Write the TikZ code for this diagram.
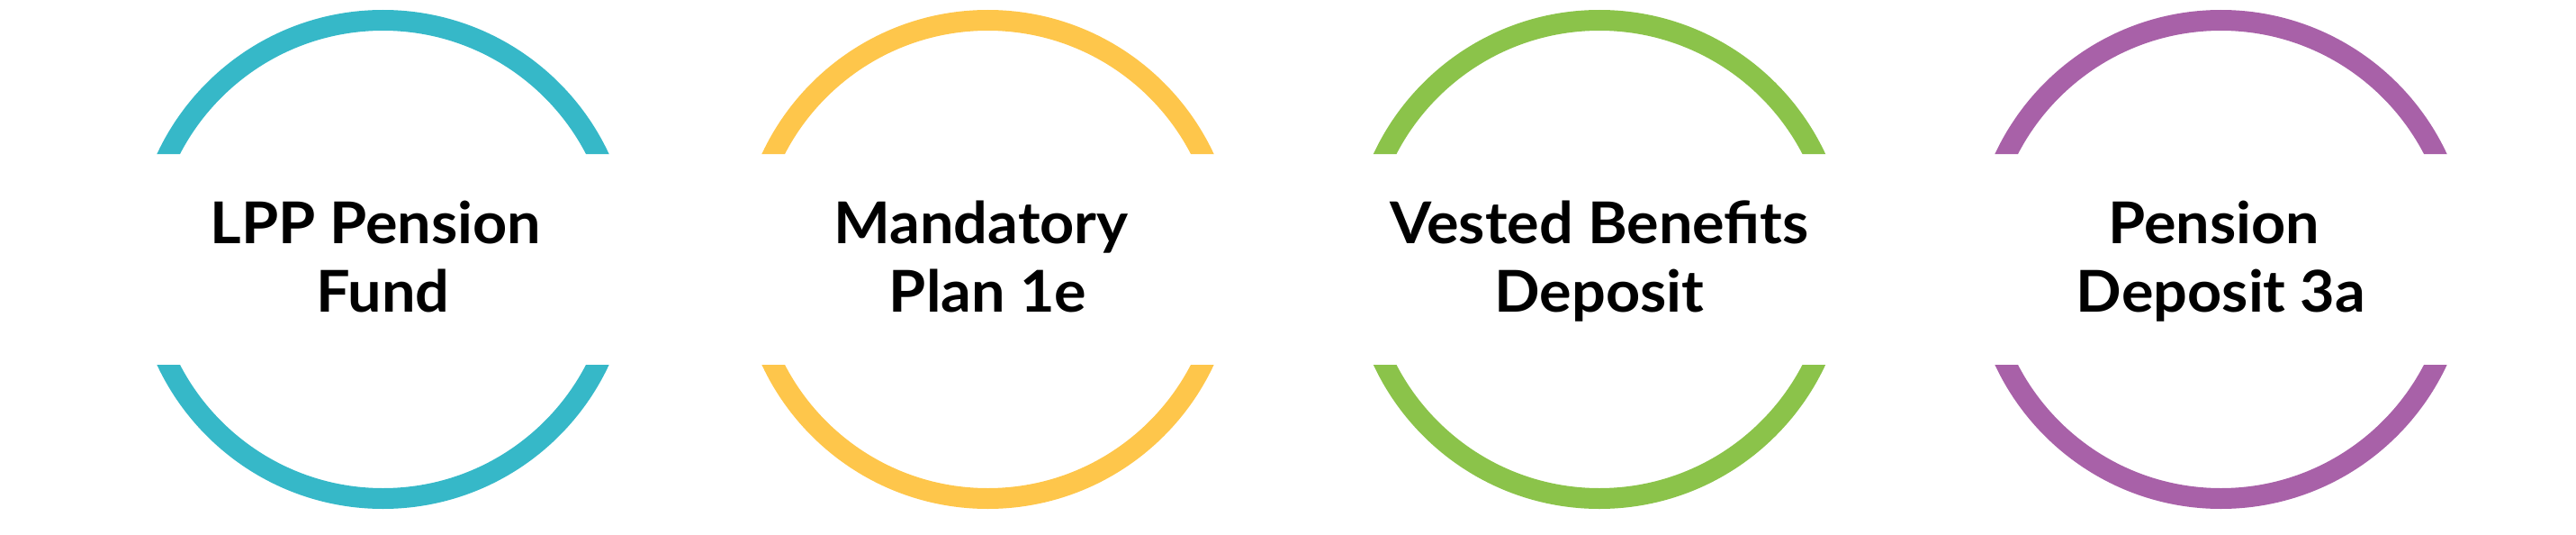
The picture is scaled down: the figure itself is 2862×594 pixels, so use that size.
\documentclass[tikz,border=0pt]{standalone}
\usepackage{fontspec}
\setmainfont{Lato}[FakeStretch=1.04]
\definecolor{cteal}{RGB}{54,184,200}
\definecolor{cyellow}{RGB}{254,198,75}
\definecolor{cgreen}{RGB}{139,195,74}
\definecolor{cpurple}{RGB}{168,97,168}
\tikzset{
  lbl/.style={anchor=base, inner sep=0pt, font=\fontsize{64}{76}\selectfont\bfseries, text=black},
}
\newcommand{\ringpair}[2]{%
  \begin{scope}
    \clip (#1-300,-20) rectangle (#1+300,171) (#1-300,405) rectangle (#1+300,620);
    \fill[#2, even odd rule] (#1,288) circle[radius=277pt] (#1,288) circle[radius=254pt];
  \end{scope}}
\begin{document}
\begin{tikzpicture}[x=1pt,y=-1pt]
  \useasboundingbox (0,0) rectangle (2862,594);
  \ringpair{425.5}{cteal}
  \ringpair{1097.5}{cyellow}
  \ringpair{1777}{cgreen}
  \ringpair{2467.5}{cpurple}
  \node[lbl] (t1a) at (417.5,270) {LPP Pension};
  \node[lbl] (t1b) at (425.5,346) {Fund};
  \node[lbl] (t2a) at (1090,270) {Mandatory};
  \node[lbl] (t2b) at (1097.5,346) {Plan 1e};
  \node[lbl] (t3a) at (1777,270) {Vested Benefits};
  \node[lbl] (t3b) at (1777,346) {Deposit};
  \node[lbl] (t4a) at (2460,270) {Pension};
  \node[lbl] (t4b) at (2467.5,346) {Deposit 3a};
\end{tikzpicture}
\end{document}
